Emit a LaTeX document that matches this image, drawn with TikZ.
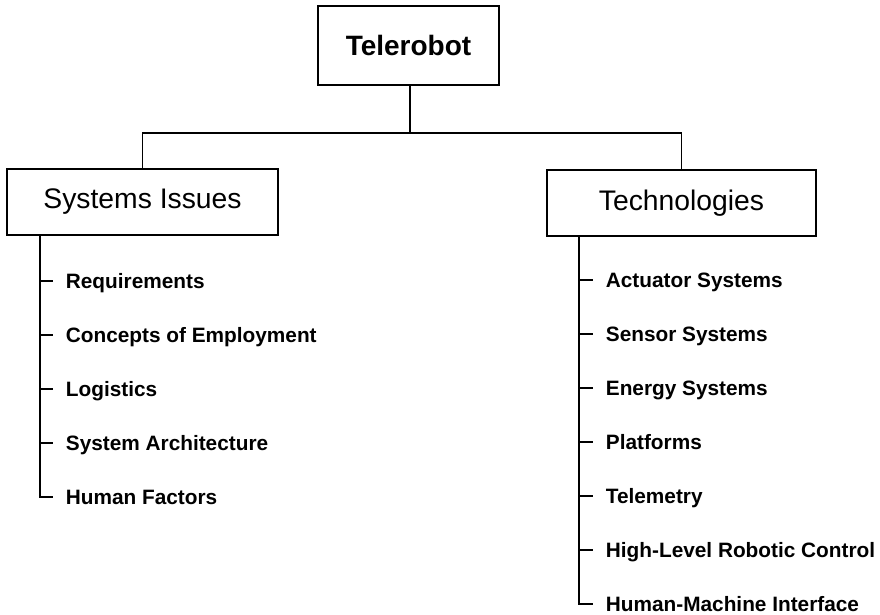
\documentclass[tikz,border=0pt]{standalone}
\usepackage{fontspec}
\setmainfont{Liberation Sans}
\begin{document}
\begin{tikzpicture}[x=1pt,y=-1pt,
  line width=1.8pt, line join=miter,
  topbox/.style={draw, inner sep=0pt, minimum width=181pt, minimum height=79pt,
    font=\fontsize{28}{32}\selectfont\bfseries},
  groupbox/.style={draw, inner sep=0pt, minimum height=66pt,
    font=\fontsize{28.3}{32}\selectfont},
  item/.style={anchor=west, inner sep=0pt, text height=14.9pt, text depth=0pt,
    font=\fontsize{20.8}{24}\selectfont\bfseries},
]
\useasboundingbox (0,0) rectangle (880,615);

% top level and the two groups
\node[topbox] (tele) at (408.5,45.5) {Telerobot};
\node[groupbox, minimum width=271pt] (sys) at (142.5,202) {Systems Issues};
\node[groupbox, minimum width=269pt] (tech) at (681.5,203) {Technologies};

% tree connector
\coordinate (hub) at (410,133);
\draw (tele.south -| hub) -- (hub);
\draw (sys.north) -- (sys.north |- hub) -- (tech.north |- hub) -- (tech.north);

% left list
\coordinate (lt) at (40,235);
\node[item] (l1) at (65,281) {Requirements};
\node[item] (l2) at (65,335) {Concepts of Employment};
\node[item] (l3) at (65,389) {Logistics};
\node[item] (l4) at (65,443) {System Architecture};
\node[item] (l5) at (65,497) {Human Factors};
\draw (lt) |- ([xshift=-12pt]l5.west);
\foreach \n in {l1,l2,l3,l4}
  \draw (lt |- \n.west) -- ([xshift=-12pt]\n.west);

% right list
\coordinate (rt) at (579,236);
\node[item] (r1) at (605,280) {Actuator Systems};
\node[item] (r2) at (605,334) {Sensor Systems};
\node[item] (r3) at (605,388) {Energy Systems};
\node[item] (r4) at (605,442) {Platforms};
\node[item] (r5) at (605,496) {Telemetry};
\node[item] (r6) at (605,550) {High-Level Robotic Control};
\node[item] (r7) at (605,604) {Human-Machine Interface};
\draw (rt) |- ([xshift=-12pt]r7.west);
\foreach \n in {r1,r2,r3,r4,r5,r6}
  \draw (rt |- \n.west) -- ([xshift=-12pt]\n.west);
\end{tikzpicture}
\end{document}
